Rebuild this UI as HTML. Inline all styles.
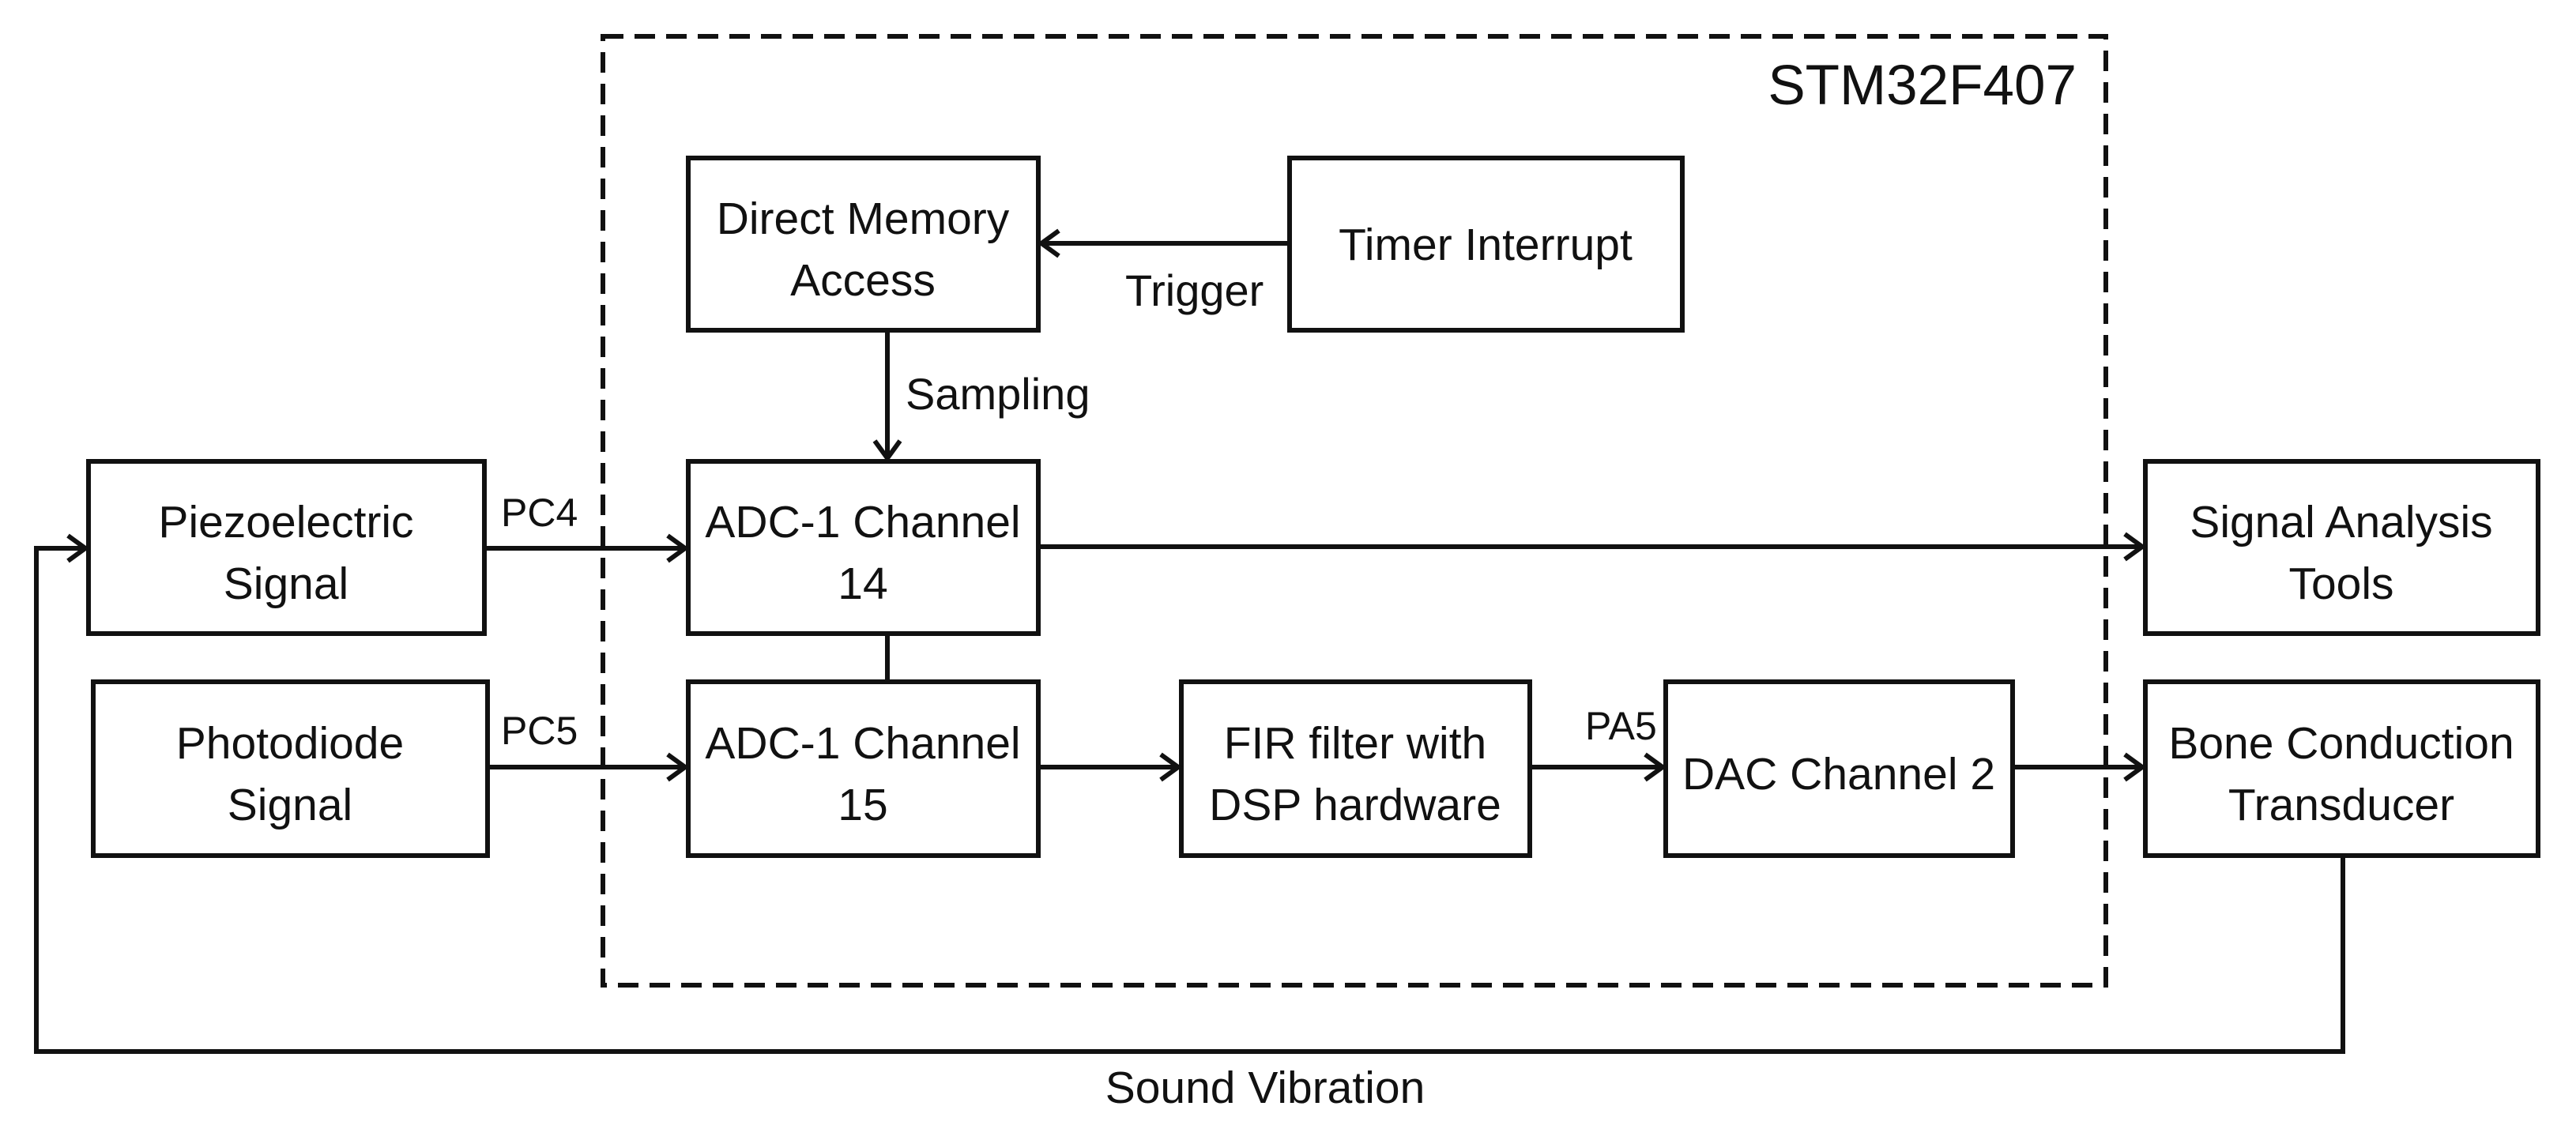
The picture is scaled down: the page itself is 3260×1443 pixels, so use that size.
<!DOCTYPE html>
<html><head><meta charset="utf-8"><style>
html,body{margin:0;padding:0;background:#fff;}
svg{display:block;}
text{font-family:"Liberation Sans",sans-serif;fill:#111;}
</style></head><body>
<svg width="3260" height="1443" viewBox="0 0 3260 1443" xmlns="http://www.w3.org/2000/svg">
<g fill="none" stroke="#111" stroke-width="6">
<rect x="763" y="46" width="1902" height="1201" stroke-dasharray="26,14"/>
<rect x="871" y="200" width="443" height="218"/>
<rect x="1632" y="200" width="497" height="218"/>
<rect x="871" y="584" width="443" height="218"/>
<rect x="871" y="863" width="443" height="220"/>
<rect x="112" y="584" width="501" height="218"/>
<rect x="118" y="863" width="499" height="220"/>
<rect x="1495" y="863" width="441" height="220"/>
<rect x="2108" y="863" width="439" height="220"/>
<rect x="2715" y="584" width="497" height="218"/>
<rect x="2715" y="863" width="497" height="220"/>
<path d="M1632 308 H1318"/><path d="M1340 292 L1318 308 L1340 324"/>
<path d="M1123 418 V580"/><path d="M1107 558 L1123 580 L1139 558"/>
<path d="M613 694 H867"/><path d="M845 678 L867 694 L845 710"/>
<path d="M617 971 H867"/><path d="M845 955 L867 971 L845 987"/>
<path d="M1314 692 H2711"/><path d="M2689 676 L2711 692 L2689 708"/>
<path d="M1123 802 V863"/>
<path d="M1314 971 H1491"/><path d="M1469 955 L1491 971 L1469 987"/>
<path d="M1936 971 H2104"/><path d="M2082 955 L2104 971 L2082 987"/>
<path d="M2547 971 H2711"/><path d="M2689 955 L2711 971 L2689 987"/>
<path d="M2965 1083 V1331 H46 V694 H108"/><path d="M86 678 L108 694 L86 710"/>
</g>
<g font-size="57" text-anchor="middle">
<text x="1092" y="296">Direct Memory</text><text x="1092" y="374">Access</text>
<text x="1880" y="329">Timer Interrupt</text>
<text x="1092" y="680">ADC-1 Channel</text><text x="1092" y="758">14</text>
<text x="1092" y="960">ADC-1 Channel</text><text x="1092" y="1038">15</text>
<text x="362" y="680">Piezoelectric</text><text x="362" y="758">Signal</text>
<text x="367" y="960">Photodiode</text><text x="367" y="1038">Signal</text>
<text x="1715" y="960">FIR filter with</text><text x="1715" y="1038">DSP hardware</text>
<text x="2327" y="999">DAC Channel 2</text>
<text x="2963" y="680">Signal Analysis</text><text x="2963" y="758">Tools</text>
<text x="2963" y="960">Bone Conduction</text><text x="2963" y="1038">Transducer</text>
<text x="1601" y="1396">Sound Vibration</text>
</g>
<g font-size="50">
<text x="634" y="666">PC4</text>
<text x="634" y="942">PC5</text>
<text x="2006" y="936">PA5</text>
</g>
<g font-size="56">
<text x="1424" y="387">Trigger</text>
<text x="1146" y="518">Sampling</text>
</g>
<text x="2628" y="132" font-size="71" text-anchor="end">STM32F407</text>
</svg>
</body></html>
